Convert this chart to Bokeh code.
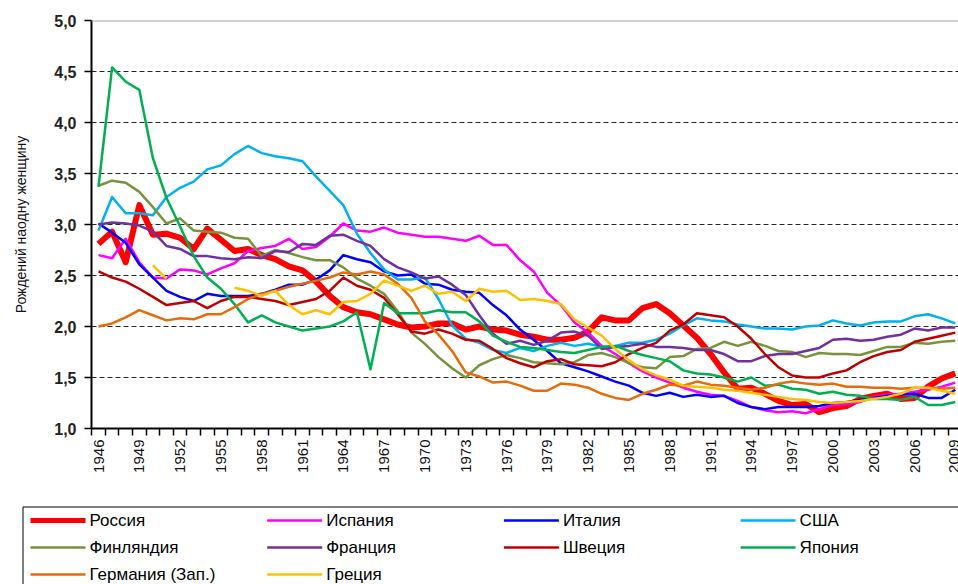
import math
from bokeh.plotting import figure
from bokeh.layouts import column
from bokeh.core.properties import value
from bokeh.models import (ColumnDataSource, FixedTicker, CustomJSTickFormatter, Span, Range1d)
from bokeh.embed import file_html
from bokeh.resources import INLINE

NA = float("nan")
years = list(range(1946, 2010))

russia = [2.81, 2.93, 2.63, 3.19, 2.90, 2.91, 2.87, 2.76, 2.96, 2.85,
          2.74, 2.76, 2.70, 2.66, 2.59, 2.55, 2.44, 2.30, 2.19, 2.14,
          2.12, 2.07, 2.02, 1.99, 2.00, 2.03, 2.03, 1.97, 2.00, 1.97,
          1.96, 1.92, 1.90, 1.87, 1.87, 1.89, 1.95, 2.09, 2.06, 2.06,
          2.18, 2.22, 2.13, 2.01, 1.89, 1.73, 1.55, 1.39, 1.40, 1.34,
          1.27, 1.23, 1.24, 1.16, 1.20, 1.22, 1.29, 1.32, 1.34, 1.29,
          1.30, 1.41, 1.49, 1.54]
spain = [2.70, 2.67, 2.86, 2.63, 2.48, 2.47, 2.56, 2.55, 2.51, 2.57,
         2.62, 2.74, 2.77, 2.79, 2.86, 2.76, 2.78, 2.88, 3.01, 2.94,
         2.93, 2.97, 2.92, 2.90, 2.88, 2.88, 2.86, 2.84, 2.89, 2.80,
         2.80, 2.65, 2.54, 2.33, 2.21, 2.04, 1.94, 1.81, 1.73, 1.64,
         1.56, 1.50, 1.45, 1.40, 1.36, 1.33, 1.32, 1.27, 1.21, 1.18,
         1.16, 1.17, 1.15, 1.19, 1.23, 1.24, 1.26, 1.31, 1.33, 1.34,
         1.36, 1.38, 1.41, 1.45]
italy = [3.01, 2.92, 2.82, 2.61, 2.48, 2.35, 2.29, 2.25, 2.32, 2.30,
         2.30, 2.30, 2.32, 2.36, 2.41, 2.41, 2.46, 2.55, 2.70, 2.66,
         2.63, 2.54, 2.50, 2.51, 2.42, 2.41, 2.36, 2.34, 2.33, 2.21,
         2.11, 1.97, 1.87, 1.76, 1.64, 1.60, 1.56, 1.51, 1.46, 1.42,
         1.35, 1.32, 1.35, 1.31, 1.33, 1.31, 1.32, 1.25, 1.21, 1.19,
         1.21, 1.21, 1.21, 1.22, 1.25, 1.26, 1.28, 1.30, 1.32, 1.33,
         1.34, 1.30, 1.30, 1.38]
usa = [2.94, 3.27, 3.11, 3.11, 3.09, 3.27, 3.36, 3.42, 3.54, 3.58,
       3.69, 3.77, 3.70, 3.67, 3.65, 3.62, 3.47, 3.33, 3.19, 2.91,
       2.72, 2.56, 2.46, 2.46, 2.48, 2.27, 2.01, 1.88, 1.84, 1.77,
       1.74, 1.79, 1.76, 1.81, 1.84, 1.81, 1.83, 1.80, 1.81, 1.84,
       1.84, 1.87, 1.93, 2.01, 2.08, 2.06, 2.05, 2.02, 2.00, 1.98,
       1.98, 1.97, 2.00, 2.01, 2.06, 2.03, 2.01, 2.04, 2.05, 2.05,
       2.10, 2.12, 2.08, 2.03]
finland = [3.38, 3.43, 3.41, 3.32, 3.17, 3.01, 3.06, 2.94, 2.93, 2.92,
           2.87, 2.86, 2.69, 2.75, 2.72, 2.68, 2.65, 2.65, 2.58, 2.47,
           2.40, 2.32, 2.15, 1.94, 1.83, 1.70, 1.59, 1.50, 1.62, 1.68,
           1.72, 1.69, 1.65, 1.64, 1.63, 1.65, 1.72, 1.74, 1.70, 1.64,
           1.60, 1.59, 1.70, 1.71, 1.78, 1.79, 1.85, 1.81, 1.85, 1.81,
           1.76, 1.75, 1.70, 1.74, 1.73, 1.73, 1.72, 1.76, 1.80, 1.80,
           1.84, 1.83, 1.85, 1.86]
france = [3.00, 3.02, 3.01, 2.99, 2.93, 2.79, 2.76, 2.69, 2.69, 2.67,
          2.66, 2.68, 2.67, 2.74, 2.73, 2.81, 2.80, 2.89, 2.90, 2.84,
          2.79, 2.66, 2.58, 2.53, 2.47, 2.49, 2.41, 2.31, 2.11, 1.93,
          1.83, 1.86, 1.82, 1.86, 1.94, 1.95, 1.91, 1.78, 1.80, 1.81,
          1.83, 1.80, 1.80, 1.79, 1.77, 1.77, 1.73, 1.66, 1.66, 1.71,
          1.73, 1.73, 1.76, 1.79, 1.87, 1.88, 1.86, 1.87, 1.90, 1.92,
          1.98, 1.96, 1.99, 1.99]
sweden = [2.54, 2.48, 2.44, 2.37, 2.29, 2.21, 2.23, 2.25, 2.18, 2.25,
          2.29, 2.29, 2.27, 2.25, 2.21, 2.24, 2.27, 2.35, 2.48, 2.40,
          2.36, 2.28, 2.12, 1.95, 1.93, 1.97, 1.93, 1.87, 1.86, 1.78,
          1.69, 1.64, 1.60, 1.66, 1.68, 1.63, 1.62, 1.61, 1.65, 1.73,
          1.79, 1.84, 1.96, 2.02, 2.13, 2.11, 2.09, 2.00, 1.88, 1.73,
          1.60, 1.52, 1.50, 1.50, 1.54, 1.57, 1.65, 1.71, 1.75, 1.77,
          1.85, 1.88, 1.91, 1.94]
japan = [3.37, 4.54, 4.40, 4.32, 3.65, 3.26, 2.98, 2.69, 2.48, 2.37,
         2.22, 2.04, 2.11, 2.04, 2.00, 1.96, 1.98, 2.00, 2.05, 2.14,
         1.58, 2.23, 2.13, 2.13, 2.13, 2.16, 2.14, 2.14, 2.05, 1.91,
         1.85, 1.80, 1.79, 1.77, 1.75, 1.74, 1.77, 1.80, 1.81, 1.76,
         1.72, 1.69, 1.66, 1.57, 1.54, 1.53, 1.50, 1.46, 1.50, 1.42,
         1.43, 1.39, 1.38, 1.34, 1.36, 1.33, 1.32, 1.29, 1.29, 1.28,
         1.31, 1.23, 1.23, 1.26]
germany_w = [2.00, 2.03, 2.09, 2.16, 2.11, 2.06, 2.08, 2.07, 2.12, 2.12,
             2.19, 2.27, 2.32, 2.35, 2.39, 2.42, 2.45, 2.48, 2.53, 2.51,
             2.54, 2.51, 2.42, 2.28, 2.05, 1.92, 1.76, 1.55, 1.51, 1.45,
             1.46, 1.42, 1.37, 1.37, 1.44, 1.43, 1.40, 1.34, 1.30, 1.28,
             1.34, 1.38, 1.43, 1.42, 1.46, 1.43, 1.42, 1.40, 1.38, 1.40,
             1.44, 1.46, 1.44, 1.43, 1.44, 1.41, 1.41, 1.40, 1.40, 1.39,
             1.40, 1.40, 1.39, 1.40]
greece = [NA, NA, NA, NA, 2.60, 2.47, NA, NA, NA, NA,
          2.38, 2.35, 2.30, 2.35, 2.21, 2.12, 2.16, 2.12, 2.24, 2.25,
          2.32, 2.45, 2.40, 2.35, 2.40, 2.32, 2.34, 2.25, 2.37, 2.34,
          2.35, 2.26, 2.27, 2.25, 2.22, 2.07, 1.99, 1.91, 1.78, 1.67,
          1.58, 1.52, 1.48, 1.42, 1.41, 1.40, 1.38, 1.37, 1.35, 1.33,
          1.31, 1.29, 1.28, 1.26, 1.25, 1.26, 1.27, 1.29, 1.31, 1.34,
          1.40, 1.40, 1.37, 1.34]

series_names = ["Россия", "Испания", "Италия", "США", "Финляндия", "Франция",
                "Швеция", "Япония", "Германия (Зап.)", "Греция"]
series_values = [russia, spain, italy, usa, finland, france, sweden, japan, germany_w, greece]
series_colors = ["#ff0000", "#ff00ff", "#0000ff", "#00b0f0", "#77933c", "#7030a0",
                 "#c00000", "#00b050", "#e46c0a", "#ffc000"]
series_widths = [6, 2.5, 2.5, 2.5, 2.5, 2.5, 2.5, 2.5, 2.5, 2.5]

y_ticks = [1.0, 1.5, 2.0, 2.5, 3.0, 3.5, 4.0, 4.5, 5.0]
grid_ticks = [1.5, 2.0, 2.5, 3.0, 3.5, 4.0, 4.5]
x_label_years = list(range(1946, 2010, 3))
y_title = "Рождений наодну женщину"

FONT = "Liberation Sans"
W = 958

# ---------------- main chart ----------------
px_per_year = 13.6
frame_w = W - 91
x0 = 1946 - 7 / px_per_year
p = figure(width=W, height=490, output_backend="svg", toolbar_location=None,
           x_range=Range1d(x0, x0 + frame_w / px_per_year), y_range=Range1d(1.0, 5.0),
           min_border_left=91, min_border_right=0, min_border_top=20, min_border_bottom=62)
p.frame_align = False
p.outline_line_color = None
p.background_fill_color = "white"
p.border_fill_color = "white"

p.xaxis.ticker = FixedTicker(ticks=x_label_years,
                             minor_ticks=[y - 0.5 for y in range(1946, 2011)])
p.xaxis.formatter = CustomJSTickFormatter(code="return String(Math.round(tick));")
p.xaxis.major_tick_line_color = None
p.xaxis.major_tick_out = 0
p.xaxis.major_tick_in = 0
p.xaxis.minor_tick_out = 7
p.xaxis.minor_tick_in = 0
p.xaxis.minor_tick_line_color = "black"
p.xaxis.minor_tick_line_width = 1.5
p.xaxis.axis_line_color = "black"
p.xaxis.axis_line_width = 2
p.xaxis.major_label_orientation = math.pi / 2
p.xaxis.major_label_standoff = 4
p.xaxis.major_label_text_font = FONT
p.xaxis.major_label_text_font_size = "15px"
p.xaxis.major_label_text_color = "#111111"

p.yaxis.ticker = FixedTicker(ticks=y_ticks)
p.yaxis.formatter = CustomJSTickFormatter(code="return tick.toFixed(1).replace('.', ',');")
p.yaxis.major_tick_out = 7
p.yaxis.major_tick_in = 0
p.yaxis.major_tick_line_color = "black"
p.yaxis.major_tick_line_width = 1.5
p.yaxis.minor_tick_line_color = None
p.yaxis.axis_line_color = "black"
p.yaxis.axis_line_width = 2
p.yaxis.major_label_standoff = 8
p.yaxis.major_label_text_font = FONT
p.yaxis.major_label_text_font_size = "16px"
p.yaxis.major_label_text_font_style = "bold"
p.yaxis.major_label_text_color = "#222222"
p.yaxis.axis_label = y_title
p.yaxis.axis_label_text_font = FONT
p.yaxis.axis_label_text_font_size = "14px"
p.yaxis.axis_label_text_font_style = "normal"
p.yaxis.axis_label_text_color = "#111111"
p.yaxis.axis_label_standoff = 22

p.xgrid.grid_line_color = None
p.ygrid.ticker = FixedTicker(ticks=grid_ticks)
p.ygrid.grid_line_color = "#262626"
p.ygrid.grid_line_dash = "5 3"
p.ygrid.grid_line_width = 1.2

p.add_layout(Span(location=5.0, dimension="width", line_color="#a6a6a6", line_width=2))

for name, vals, col, w in zip(series_names, series_values, series_colors, series_widths):
    src = ColumnDataSource(dict(x=years, y=vals))
    p.line("x", "y", source=src, line_color=col, line_width=w, line_join="round")

# ---------------- legend strip ----------------
LH = 94
lg = figure(width=W, height=LH, output_backend="svg", toolbar_location=None,
            x_range=Range1d(0, W), y_range=Range1d(LH, 0),
            min_border_left=0, min_border_right=0, min_border_top=0, min_border_bottom=0)
lg.frame_align = False
lg.axis.visible = False
lg.grid.visible = False
lg.outline_line_color = None
lg.background_fill_color = "white"
lg.border_fill_color = "white"

lg.quad(left=[22.5], right=[W + 20], top=[16.5], bottom=[LH + 20],
        fill_color="white", line_color="black", line_width=1)

col_pitch = 236.7
row_pitch = 27
lx, ly, ltx = [], [], []
for i, (name, col, w) in enumerate(zip(series_names, series_colors, series_widths)):
    r, c = divmod(i, 4)
    x_start = 30 + c * col_pitch
    y_mid = 30 + r * row_pitch
    lg.line([x_start, x_start + 55], [y_mid, y_mid], line_color=col,
            line_width=5 if w > 3 else 2.5)
    lx.append(x_start + 59)
    ly.append(y_mid)
    ltx.append(name)
lg.text(x=lx, y=ly, text=ltx, text_font=value(FONT), text_font_size="17px",
        text_baseline="middle", text_align="left", text_color="black")

layout = column(p, lg, spacing=0)
open("out.html", "w").write(file_html(layout, INLINE))
